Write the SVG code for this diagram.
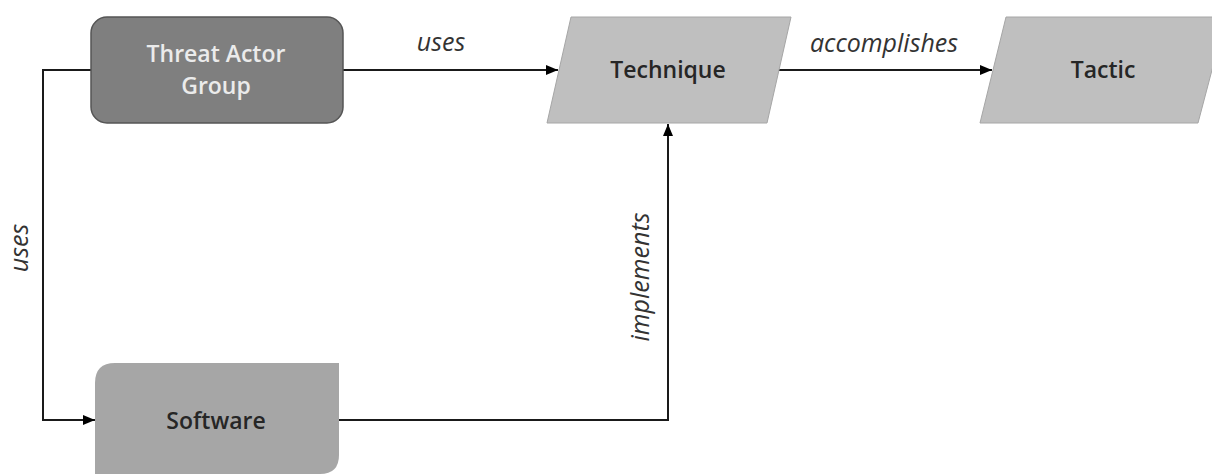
<svg xmlns="http://www.w3.org/2000/svg" width="1212" height="476" viewBox="0 0 1212 476">
  <defs>
    <marker id="arrow" viewBox="0 0 12 10" refX="12" refY="5" markerWidth="12" markerHeight="10" markerUnits="userSpaceOnUse" orient="auto">
      <path d="M0,0 L12,5 L0,10 z" fill="#000"/>
    </marker>
    <style>
      .edge { fill: none; stroke: #1a1a1a; stroke-width: 2; }
      .node-text { font-family: "Open Sans", "Liberation Sans", sans-serif; font-size: 23px; font-weight: 600; text-anchor: middle; }
      .label { font-family: "Open Sans", "Liberation Sans", sans-serif; font-size: 25px; font-style: italic; fill: #333; text-anchor: middle; }
    </style>
  </defs>
  <rect width="1212" height="476" fill="#fff"/>

  <!-- connectors -->
  <g id="connectors">
    <path class="edge" d="M343,70 H558" marker-end="url(#arrow)"/>
    <path class="edge" d="M775,70 H992" marker-end="url(#arrow)"/>
    <path class="edge" d="M91,70 H43 V420 H95" marker-end="url(#arrow)"/>
    <path class="edge" d="M339,420 H668 V124" marker-end="url(#arrow)"/>
    <text class="label" x="441" y="51">uses</text>
    <text class="label" x="884" y="52">accomplishes</text>
    <text class="label" transform="translate(28,248) rotate(-90)">uses</text>
    <text class="label" transform="translate(649,277) rotate(-90)">implements</text>
  </g>

  <g id="threat-actor-group">
    <rect x="91" y="17" width="252" height="106" rx="16" fill="#7f7f7f" stroke="#555" stroke-width="1.5"/>
    <text class="node-text" x="216" y="62" fill="#ebebeb">Threat Actor</text>
    <text class="node-text" x="216" y="94" fill="#ebebeb">Group</text>
  </g>

  <g id="technique">
    <polygon points="571,17 791,17 767,123 547,123" fill="#bfbfbf" stroke="#a6a6a6" stroke-width="1"/>
    <text class="node-text" x="668" y="78" fill="#262626">Technique</text>
  </g>

  <g id="tactic">
    <polygon points="1006,17 1226,17 1198,123 980,123" fill="#bfbfbf" stroke="#a6a6a6" stroke-width="1"/>
    <text class="node-text" x="1103" y="78" fill="#262626">Tactic</text>
  </g>

  <g id="software">
    <path d="M115,363 H339 V455 Q339,474 320,474 H95 V383 Q95,363 115,363 Z" fill="#a6a6a6"/>
    <text class="node-text" x="216" y="429" fill="#262626">Software</text>
  </g>
</svg>
